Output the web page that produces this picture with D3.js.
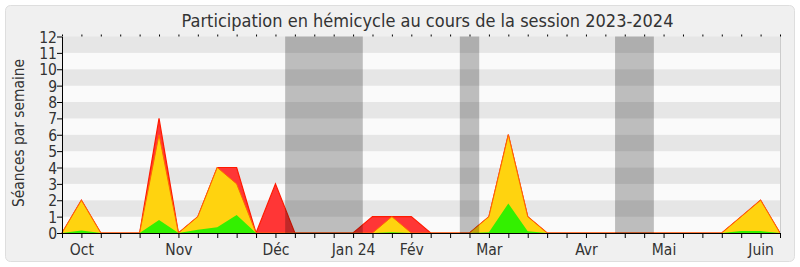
<!DOCTYPE html>
<html><head><meta charset="utf-8">
<script src="https://cdn.jsdelivr.net/npm/d3@7"></script>
<style>html,body{margin:0;padding:0;background:#fff;}svg{display:block;}</style>
</head><body>
<svg id="c" width="800" height="267"></svg>
<script>
// weeks index 0..37 (weekly sessions, Sept 2023 -> June 2024)
const weeks = d3.range(38);
const monthLabels = {1:"Oct",6:"Nov",11:"Déc",15:"Jan 24",18:"Fév",22:"Mar",27:"Avr",31:"Mai",36:"Juin"};
// total (red), présences (yellow), interventions (green)
const redValues    = [0,2,0,0,0,7,0,1,4,4,0,3,0,0,0,0,1,1,1,0,0,0,1,6,1,0,0,0,0,0,0,0,0,0,0,1,2,0];
const yellowValues = [0,2,0,0,0,6,0,1,4,3,0,0,0,0,0,0,0,1,0,0,0,0,1,6,1,0,0,0,0,0,0,0,0,0,0,1,2,0];
const greenValues  = [0,0.15,0,0,0,0.8,0,0.2,0.35,1.1,0,0,0,0,0,0,0,0.05,0,0,0,0,0.05,1.8,0.1,0,0,0,0,0,0,0,0,0,0,0.12,0.12,0];
// vacation periods, in week units
const vacations = [[11.5,15.5],[20.5,21.5],[28.5,30.5]];
const yTicks = d3.range(0,13);
const title = "Participation en hémicycle au cours de la session 2023-2024";
const yTitle = "Séances par semaine";

const FONT = "'DejaVu Sans Condensed','DejaVu Sans',sans-serif";
const svg = d3.select("#c");
svg.append("rect").attr("x",5.5).attr("y",5.5).attr("width",789).attr("height",256)
  .attr("rx",5).attr("fill","#f0f0f0").attr("stroke","#dedede");

const x = d3.scaleLinear().domain([0,37]).range([62,780]);
const y = d3.scaleLinear().domain([0,12]).range([233,36.5]);

// stripes
const g = svg.append("g");
g.selectAll("rect.s").data(d3.range(12)).join("rect")
  .attr("x",x(0)).attr("width",x(37)-x(0))
  .attr("y",d=>y(d+1)).attr("height",d=>y(d)-y(d+1))
  .attr("fill",d=>d%2? "#e6e6e6":"#fafafa");

const area = vals => d3.area().x((d,i)=>x(i)).y0(y(0)).y1(d=>y(d))(vals);
const line = vals => d3.line().x((d,i)=>x(i)).y(d=>y(d))(vals);
g.append("path").attr("d",area(redValues)).attr("fill","#ff3636");
g.append("path").attr("d",line(redValues)).attr("fill","none").attr("stroke","#ff1a00").attr("stroke-width",1.2);
g.append("path").attr("d",area(yellowValues)).attr("fill","#ffd30f");
g.append("path").attr("d",line(yellowValues)).attr("fill","none").attr("stroke","#ff6a00").attr("stroke-width",1);
g.append("path").attr("d",area(greenValues)).attr("fill","#33f000");

// vacations
g.selectAll("rect.v").data(vacations).join("rect")
  .attr("x",d=>x(d[0])).attr("width",d=>x(d[1])-x(d[0]))
  .attr("y",y(12)).attr("height",y(0)-y(12))
  .attr("fill","rgba(0,0,0,0.245)");

// right border
svg.append("line").attr("x1",x(37)+0.5).attr("x2",x(37)+0.5).attr("y1",y(12)).attr("y2",y(0))
  .attr("stroke","#cccccc");

// axes
const ax = svg.append("g").attr("transform",`translate(0,${y(0)})`)
  .call(d3.axisBottom(x).tickValues(weeks).tickSize(5).tickSizeOuter(0).tickFormat(d=>monthLabels[d]||""));
ax.select(".domain").attr("stroke","#000");
ax.selectAll("text").attr("font-family",FONT).attr("font-size",15.5).attr("fill","#333").attr("dy","0.9em");

const axt = svg.append("g").attr("transform",`translate(0,${y(12)})`)
  .call(d3.axisTop(x).tickValues(weeks).tickSize(2).tickSizeOuter(0).tickFormat(""));
axt.select(".domain").remove();
axt.selectAll("line").attr("stroke","#000");

const ay = svg.append("g").attr("transform",`translate(${x(0)},0)`)
  .call(d3.axisLeft(y).tickValues(yTicks).tickSize(5).tickSizeOuter(0).tickFormat(d3.format("d")));
ay.select(".domain").attr("stroke","#000");
ay.selectAll("text").attr("font-family",FONT).attr("font-size",15.5).attr("fill","#333").attr("x",-5).attr("dy","0.36em");

// title
const t = svg.append("text").attr("x",427.5).attr("y",26.5).attr("text-anchor","middle")
  .attr("font-family",FONT).attr("font-size",16).attr("fill","#333").text(title);
let w = t.node().getComputedTextLength();
t.attr("font-size",16*492/w);

const yl = svg.append("text").attr("transform","translate(23.5,133) rotate(-90)").attr("text-anchor","middle")
  .attr("font-family",FONT).attr("font-size",14).attr("fill","#333").text(yTitle);
w = yl.node().getComputedTextLength();
yl.attr("font-size",14*148/w);
</script>
</body></html>
